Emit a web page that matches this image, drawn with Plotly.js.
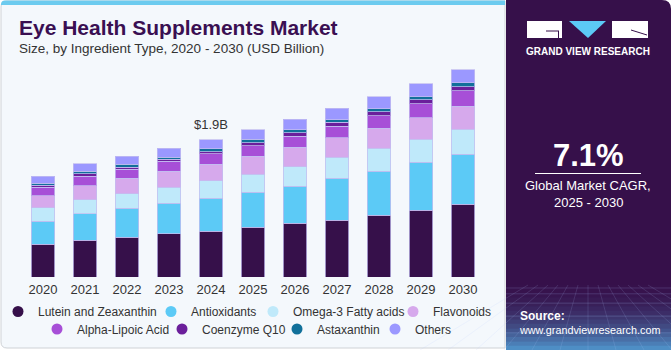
<!DOCTYPE html>
<html><head><meta charset="utf-8">
<script src="https://cdn.plot.ly/plotly-3.0.1.min.js"></script>
<style>html,body{margin:0;padding:0;background:#fff;}#chart{width:671px;height:350px;}</style>
</head><body><div id="chart"></div>
<script>
const years = ['2020','2021','2022','2023','2024','2025','2026','2027','2028','2029','2030'];
const seriesNames = ['Lutein and Zeaxanthin','Antioxidants','Omega-3 Fatty acids','Flavonoids','Alpha-Lipoic Acid','Coenzyme Q10','Astaxanthin','Others'];
const lutein      = [0.455,0.506,0.552,0.599,0.630,0.686,0.745,0.782,0.855,0.924,1.003];
const antioxidants= [0.317,0.368,0.396,0.422,0.459,0.483,0.506,0.579,0.603,0.658,0.690];
const omega3      = [0.185,0.193,0.203,0.221,0.240,0.248,0.272,0.294,0.317,0.317,0.345];
const flavonoids  = [0.166,0.193,0.215,0.221,0.229,0.252,0.266,0.268,0.276,0.303,0.321];
const alphaLipoic = [0.119,0.128,0.124,0.134,0.143,0.143,0.152,0.160,0.179,0.193,0.212];
const coq10       = [0.028,0.037,0.028,0.028,0.032,0.041,0.051,0.051,0.055,0.051,0.059];
const astaxanthin = [0.028,0.032,0.037,0.032,0.037,0.046,0.041,0.041,0.041,0.046,0.051];
const others      = [0.092,0.110,0.110,0.124,0.128,0.134,0.146,0.156,0.166,0.175,0.179];
const labelYear = '2024';
const cagrText = '7.1%';
const cagrLabel1 = 'Global Market CAGR,';
const cagrLabel2 = '2025 - 2030';

const seriesData = [lutein, antioxidants, omega3, flavonoids, alphaLipoic, coq10, astaxanthin, others];
const colors = ['#36104a','#5ccaf6','#bfe9fa','#d6a9ec','#a74fd7','#6b1f9b','#11709a','#9b98ff'];

const FONT = 'Liberation Sans, Arial, sans-serif';
const M = {l:22, r:187, t:67, b:73, autoexpand:false};
const PW = 671 - M.l - M.r, PH = 350 - M.t - M.b;
const px = x => (x - M.l) / PW;
const py = y => (350 - M.b - y) / PH;

// legend entry placement (page px): left edge of each legend box and row centre
const legendLeft = [-2, 151, 253, 393, 37, 162, 277, 375];
const legendRowY = [311.5, 311.5, 311.5, 311.5, 329, 329, 329, 329];
const legendIds = seriesNames.map((_, i) => i === 0 ? 'legend' : 'legend' + (i + 1));

const traces = [];
seriesData.forEach((vals, i) => {
  traces.push({
    type:'bar', x: years, y: vals, name: seriesNames[i], showlegend:false,
    marker:{color: colors[i], line:{color:'rgba(195,190,240,0.75)', width:1}},
    hoverinfo:'x+y+name'
  });
});
seriesData.forEach((vals, i) => {
  traces.push({
    type:'scatter', mode:'markers', x:[null], y:[null], name: seriesNames[i],
    legend: legendIds[i],
    marker:{color: colors[i], size:11, symbol:'circle'}, hoverinfo:'skip'
  });
});

const li = years.indexOf(labelYear);
const total = seriesData.reduce((s, arr) => s + arr[li], 0);

function rectPath(x0,y0,x1,y1,rtl,rtr,rbr,rbl){
  const X=px, Y=py;
  let p = `M ${X(x0+rtl)} ${Y(y0)} L ${X(x1-rtr)} ${Y(y0)} `;
  p += rtr ? `Q ${X(x1)} ${Y(y0)} ${X(x1)} ${Y(y0+rtr)} ` : '';
  p += `L ${X(x1)} ${Y(y1-rbr)} `;
  p += rbr ? `Q ${X(x1)} ${Y(y1)} ${X(x1-rbr)} ${Y(y1)} ` : '';
  p += `L ${X(x0+rbl)} ${Y(y1)} `;
  p += rbl ? `Q ${X(x0)} ${Y(y1)} ${X(x0)} ${Y(y1-rbl)} ` : '';
  p += `L ${X(x0)} ${Y(y0+rtl)} `;
  p += rtl ? `Q ${X(x0)} ${Y(y0)} ${X(x0+rtl)} ${Y(y0)} ` : '';
  return p + 'Z';
}

const shapes = [
  {type:'path', xref:'paper', yref:'paper', layer:'below', path: rectPath(1,1,505,348,6,0,0,6), fillcolor:'#f4f8fc', line:{color:'#cfd2d6', width:1}},
  {type:'path', xref:'paper', yref:'paper', layer:'below', path: rectPath(1,0.5,505,5,4,0,0,0), fillcolor:'#6ccbef', line:{width:0}},
  {type:'path', xref:'paper', yref:'paper', layer:'below', path: rectPath(506,0,671,350,0,9,0,0), fillcolor:'#36104a', line:{width:0}},
];
const g0 = [54,16,74], g1 = [80,150,205];
const bands = 16, gy0 = 280, gy1 = 350;
for (let k = 0; k < bands; k++) {
  const t = (k+0.5)/bands, tt = t*t;
  const c = g0.map((v,j)=>Math.round(v + (g1[j]-v)*tt));
  const ya = gy0 + (gy1-gy0)*k/bands, yb = gy0 + (gy1-gy0)*(k+1)/bands + 0.5;
  shapes.push({type:'rect', xref:'paper', yref:'paper', layer:'below', x0:px(506), x1:px(671), y0:py(ya), y1:py(yb), fillcolor:`rgb(${c[0]},${c[1]},${c[2]})`, line:{width:0}});
}
for (let k = 0; k < 6; k++) {
  const yy = 288 + k*k*1.8 + k*4;
  shapes.push({type:'line', xref:'paper', yref:'paper', layer:'below', x0:px(506), x1:px(671), y0:py(yy), y1:py(yy), line:{color:'rgba(180,200,255,0.18)', width:1}});
}
for (let k = -6; k <= 6; k++) {
  shapes.push({type:'line', xref:'paper', yref:'paper', layer:'below', x0:px(588 + k*10), x1:px(588 + k*28), y0:py(285), y1:py(350), line:{color:'rgba(180,200,255,0.15)', width:1}});
}
shapes.push({type:'rect', xref:'paper', yref:'paper', x0:px(527), x1:px(562), y0:py(21), y1:py(38), fillcolor:'#ffffff', line:{width:0}});
shapes.push({type:'line', xref:'paper', yref:'paper', x0:px(546), x1:px(559), y0:py(31), y1:py(31), line:{color:'#36104a', width:1}});
shapes.push({type:'line', xref:'paper', yref:'paper', x0:px(558.5), x1:px(558.5), y0:py(31), y1:py(38), line:{color:'#36104a', width:1}});
shapes.push({type:'path', xref:'paper', yref:'paper', path:`M ${px(569)} ${py(21)} L ${px(606)} ${py(21)} L ${px(588)} ${py(38)} Z`, fillcolor:'#5ccaf6', line:{width:0}});
shapes.push({type:'rect', xref:'paper', yref:'paper', x0:px(612), x1:px(648), y0:py(21), y1:py(38), fillcolor:'#ffffff', line:{width:0}});
shapes.push({type:'line', xref:'paper', yref:'paper', x0:px(631), x1:px(647), y0:py(30), y1:py(35), line:{color:'#36104a', width:1}});
shapes.push({type:'line', xref:'paper', yref:'paper', x0:px(535), x1:px(641), y0:py(173.5), y1:py(173.5), line:{color:'#ffffff', width:1}});

const annotations = [
  {xref:'paper', yref:'paper', x:px(17), y:py(27), xanchor:'left', yanchor:'middle', showarrow:false,
   text:'<b>Eye Health Supplements Market</b>', font:{family:FONT, size:21, color:'#3a0f52'}},
  {xref:'paper', yref:'paper', x:px(17), y:py(48), xanchor:'left', yanchor:'middle', showarrow:false,
   text:'Size, by Ingredient Type, 2020 - 2030 (USD Billion)', font:{family:FONT, size:13.5, color:'#333333'}},
  {xref:'x', yref:'y', x:li, y:total, xanchor:'center', yanchor:'bottom', yshift:6, showarrow:false,
   text:'$' + total.toFixed(1) + 'B', font:{family:FONT, size:13, color:'#333333'}},
  {xref:'paper', yref:'paper', x:px(588), y:py(51), xanchor:'center', yanchor:'middle', showarrow:false,
   text:'<b>GRAND VIEW RESEARCH</b>', font:{family:FONT, size:10, color:'#ffffff'}},
  {xref:'paper', yref:'paper', x:px(588), y:py(155), xanchor:'center', yanchor:'middle', showarrow:false,
   text:'<b>' + cagrText + '</b>', font:{family:FONT, size:31, color:'#ffffff'}},
  {xref:'paper', yref:'paper', x:px(588), y:py(185), xanchor:'center', yanchor:'middle', showarrow:false,
   text:cagrLabel1, font:{family:FONT, size:13, color:'#ffffff'}},
  {xref:'paper', yref:'paper', x:px(588), y:py(202), xanchor:'center', yanchor:'middle', showarrow:false,
   text:cagrLabel2, font:{family:FONT, size:13, color:'#ffffff'}},
  {xref:'paper', yref:'paper', x:px(518), y:py(316), xanchor:'left', yanchor:'middle', showarrow:false,
   text:'<b>Source:</b>', font:{family:FONT, size:12, color:'#ffffff'}},
  {xref:'paper', yref:'paper', x:px(517), y:py(329.5), xanchor:'left', yanchor:'middle', showarrow:false,
   text:'www.grandviewresearch.com', font:{family:FONT, size:10.8, color:'#ffffff'}},
];

const layout = {
  width:671, height:350, margin:M,
  paper_bgcolor:'#ffffff', plot_bgcolor:'rgba(0,0,0,0)',
  font:{family:FONT},
  barmode:'stack', bargap:0.45,
  xaxis:{type:'category', categoryarray:years, range:[-0.5,10.5], showgrid:false, zeroline:false, showline:false,
         ticks:'', ticklabelstandoff:3, tickfont:{family:FONT, size:13, color:'#333333'}, fixedrange:true, automargin:false},
  yaxis:{range:[0,2.9], visible:false, showgrid:false, zeroline:false, fixedrange:true, automargin:false},
  shapes, annotations, showlegend:true
};
legendIds.forEach((id, i) => {
  layout[id] = {orientation:'h', xanchor:'left', x:px(legendLeft[i]), yanchor:'middle', y:py(legendRowY[i]),
    font:{family:FONT, size:12, color:'#333333'}, bgcolor:'rgba(0,0,0,0)', borderwidth:0,
    itemclick:false, itemdoubleclick:false, traceorder:'normal'};
});

Plotly.newPlot('chart', traces, layout, {displayModeBar:false, staticPlot:true});
</script></body></html>
